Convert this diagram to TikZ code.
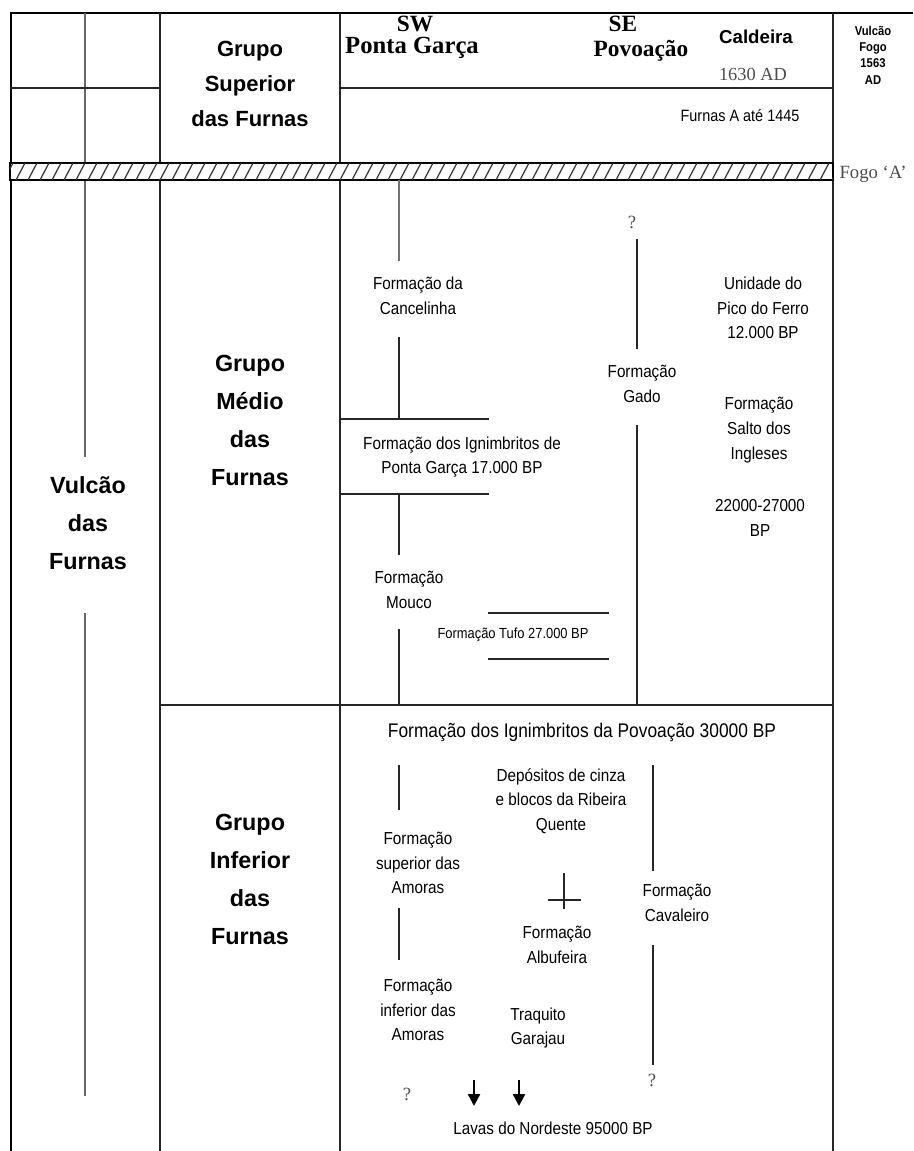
\documentclass[tikz,border=0pt]{standalone}
\usepackage{fontspec}
\setmainfont{Liberation Sans}
\newfontfamily\corpo[FakeStretch=0.88]{Liberation Sans}
\newfontfamily\timesfont{Liberation Serif}
\usetikzlibrary{arrows.meta}
\def\txt#1#2{\fontsize{#1}{#2}\selectfont}
\tikzset{
  unidade/.style={align=center, inner sep=0pt, font=\corpo\txt{13}{18.5}},
  grupo/.style={align=center, inner sep=0pt, font=\bfseries\txt{17.5}{28.5}},
  antigo/.style={align=center, inner sep=0pt, text=black!70, font=\timesfont\txt{14}{16}},
  regua/.style={black!85, line width=1.3pt},
  seta/.style={-{Triangle[width=9pt,length=9pt]}, line width=1.8pt},
}

\begin{document}
\begin{tikzpicture}[x=0.75pt,y=-0.75pt]
			\useasboundingbox (0,0) rectangle (913,1151);
			%%%%% START %%%%%
			\draw[line width=2.2pt] (10,13) -- (913,13);
			\draw[line width=1.8pt] (11,13) -- (11,1151);
			\draw[regua] (833,13) -- (833,1151);
			
			\draw[regua] (160,13) -- (160,1151);
			\draw[regua] (340,13) -- (340,1151);
			\draw[regua, black!60] (85,13) -- (85,163);
			\draw[regua, black!60] (85,180) -- (85,457);
			\draw[regua, black!60] (85,613) -- (85,1096);
			
			\draw[regua] (10,88) -- (160,88);
			\draw[regua] (340,88) -- (833,88);
			\draw[regua] (160,705) -- (833,705);
			
			% Fogo A
			\draw[fill=white, line width=1.3pt] (10,163) rectangle (833,180);
			\begin{scope}
			\clip (10,163) rectangle (833,180);
			\foreach \x in {4,16,...,840}
				\draw[black!80, line width=0.9pt] (\x,180) -- (\x+9,163);
			\end{scope}
			
			% topo
			\node[grupo, font=\bfseries\txt{16.5}{26.5}] (superior) at (250,84) {Grupo\\Superior\\das Furnas};
			\node[inner sep=0pt, font=\timesfont\bfseries\txt{17.5}{19}] (sw) at (415,24) {SW};
			\node[inner sep=0pt, font=\timesfont\bfseries\txt{18.5}{19}] (pgarca) at (412,48) {Ponta Garça};
			\node[inner sep=0pt, font=\timesfont\bfseries\txt{17.5}{19}] (se) at (623,24) {SE};
			\node[inner sep=0pt, font=\timesfont\bfseries\txt{17.5}{19}] (povoacao) at (641,51) {Povoação};
			\node[inner sep=0pt, font=\bfseries\txt{14}{16}] (caldeira) at (756,37) {Caldeira};
			\node[antigo, font=\timesfont\txt{13.8}{16}] (ad1630) at (753,74) {1630 AD};
			\node[unidade, font=\corpo\txt{12.3}{18}] (furnasA) at (740,116) {Furnas A até 1445};
			\node[align=center, inner sep=0pt, font=\corpo\bfseries\txt{9.6}{12.2}] (fogo) at (873,55) {Vulcão\\Fogo\\1563\\AD};
			\node[antigo] (fogoA) at (873,174) {Fogo ‘A’};
			
			\node[grupo] (vulcao) at (88,523) {Vulcão\\das\\Furnas};
			\node[grupo] (medio) at (250,420) {Grupo\\Médio\\das\\Furnas};
			\node[grupo] (inferior) at (250,879) {Grupo\\Inferior\\das\\Furnas};
			
			% grupo medio
			\node[unidade] (cancelinha) at (418,296) {Formação da\\Cancelinha};
			\draw[regua, black!55] (399,180) -- (399,261);
			\draw[regua] (399,337) -- (399,419);
			\draw[regua] (340,419) -- (489,419);
			\node[unidade] (ignpg) at (462,457) {Formação dos Ignimbritos de\\Ponta Garça 17.000 BP};
			\draw[regua] (340,494) -- (489,494);
			\draw[regua] (399,494) -- (399,555);
			\node[unidade] (mouco) at (409,590) {Formação\\Mouco};
			\draw[regua] (399,629) -- (399,705);
			\draw[regua, line width=0.8pt] (488,613) -- (609,613);
			\node[unidade, font=\corpo\txt{11}{12}] (tufo) at (513,635) {Formação Tufo 27.000 BP};
			\draw[regua, line width=0.8pt] (488,659) -- (609,659);
			
			\node[antigo] (q1) at (632,222) {?};
			\draw[regua] (637,239) -- (637,349);
			\node[unidade] (gado) at (642,384) {Formação\\Gado};
			\draw[regua] (637,425) -- (637,705);
			
			\node[unidade] (picoferro) at (763,308) {Unidade do\\Pico do Ferro\\12.000 BP};
			\node[unidade] (salto) at (759,430) {Formação\\Salto dos\\Ingleses};
			\node[unidade] (idade) at (760,518) {22000-27000\\BP};
			
			% grupo inferior
			\node[unidade, font=\corpo\txt{14.8}{18}] (ignpov) at (582,732) {Formação dos Ignimbritos da Povoação 30000 BP};
			\draw[regua] (399,765) -- (399,810);
			\node[unidade] (supamoras) at (418,863) {Formação\\superior das\\Amoras};
			\draw[regua] (399,908) -- (399,960);
			\node[unidade] (infamoras) at (418,1010) {Formação\\inferior das\\Amoras};
			\node[antigo] (q2) at (407,1094) {?};
			
			\node[unidade] (ribeira) at (561,801) {Depósitos de cinza\\e blocos da Ribeira\\Quente};
			\draw[regua] (564,873) -- (564,909);
			\draw[regua] (548,900) -- (581,900);
			\node[unidade] (albufeira) at (557,945) {Formação\\Albufeira};
			\node[unidade] (garajau) at (538,1028) {Traquito\\Garajau};
			
			\draw[regua] (653,765) -- (653,871);
			\node[unidade] (cavaleiro) at (677,903) {Formação\\Cavaleiro};
			\draw[regua] (653,945) -- (653,1065);
			\node[antigo] (q3) at (652,1080) {?};
			
			\draw[seta] (474,1080) -- (474,1106);
			\draw[seta] (519,1080) -- (519,1106);
			\node[unidade] (nordeste) at (553,1128) {Lavas do Nordeste 95000 BP};
			%%%%% END %%%%%
\end{tikzpicture}
\end{document}
